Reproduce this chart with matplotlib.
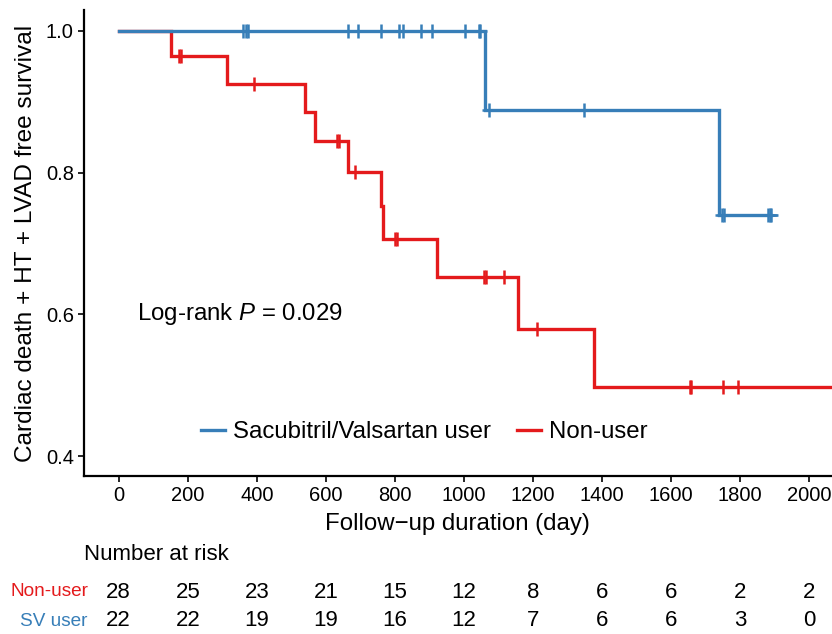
import numpy as np
import matplotlib
matplotlib.use("Agg")
import matplotlib.pyplot as plt
import matplotlib.transforms as mtransforms

plt.rcParams['font.family'] = ['Liberation Sans', 'DejaVu Sans']
plt.rcParams['mathtext.fontset'] = 'custom'
plt.rcParams['mathtext.it'] = 'Liberation Sans:italic'
plt.rcParams['mathtext.rm'] = 'Liberation Sans'

# ---- data ----
groups = ["Sacubitril/Valsartan user", "Non-user"]
risk_labels = ["Non-user", "SV user"]
colors = {"Sacubitril/Valsartan user": "#377EB8", "Non-user": "#E41A1C"}

sv_event_times = [1061, 1739]
sv_censor_times = [360, 368, 374, 664, 693, 760, 812, 824, 875, 907,
                   1003, 1044, 1047, 1072, 1348, 1747, 1754, 1880, 1886, 1890]

non_event_times = [152, 314, 540, 569, 663, 761, 766, 922, 1157, 1377]
non_censor_times = [176, 181, 392, 631, 639, 685, 801, 807, 1059, 1063,
                    1117, 1211, 1655, 1659, 1751, 1793, 2100, 2150]

risk_times = [0, 200, 400, 600, 800, 1000, 1200, 1400, 1600, 1800, 2000]
risk_non = [28, 25, 23, 21, 15, 12, 8, 6, 6, 2, 2]
risk_sv = [22, 22, 19, 19, 16, 12, 7, 6, 6, 3, 0]

pvalue_text = "0.029"


def km(event_times, censor_times):
    times = np.array(list(event_times) + list(censor_times), dtype=float)
    status = np.array([1] * len(event_times) + [0] * len(censor_times))
    order = np.argsort(times, kind="stable")
    times, status = times[order], status[order]
    uniq = np.unique(times)
    s = 1.0
    xs, ys = [0.0], [1.0]
    cx, cy = [], []
    for t in uniq:
        n = np.sum(times >= t)
        d = np.sum((times == t) & (status == 1))
        c = np.sum((times == t) & (status == 0))
        if d > 0:
            s = s * (1 - d / n)
        xs.append(t)
        ys.append(s)
        if c > 0:
            cx.append(t)
            cy.append(s)
    return np.array(xs), np.array(ys), np.array(cx), np.array(cy)


W, H = 832, 634
fig = plt.figure(figsize=(W / 100, H / 100), dpi=100)
ax = fig.add_axes([83.5 / W, 1 - 476 / H, (832 - 83.5) / W, (476 - 10) / H])

curves = {
    "Non-user": km(non_event_times, non_censor_times),
    "Sacubitril/Valsartan user": km(sv_event_times, sv_censor_times),
}
handles = {}
for g in ["Non-user", "Sacubitril/Valsartan user"]:
    xs, ys, cx, cy = curves[g]
    (h,) = ax.step(xs, ys, where="post", color=colors[g], lw=2.4,
                   solid_joinstyle="miter", label=g, zorder=3)
    ax.plot(cx, cy, ls="none", marker="+", ms=10, mew=1.8,
            color=colors[g], zorder=4)
    handles[g] = h

ax.set_xlim(-102, 2066)
ax.set_ylim(0.3718, 1.0296)
ax.set_xticks(risk_times)
ax.set_yticks([0.4, 0.6, 0.8, 1.0])
ax.set_yticklabels(["0.4", "0.6", "0.8", "1.0"])
for side in ["top", "right"]:
    ax.spines[side].set_visible(False)
for side in ["left", "bottom"]:
    ax.spines[side].set_linewidth(1.6)
ax.tick_params(axis="both", length=4, width=1.2, labelsize=14.5,
               colors="black", pad=3)
ax.set_xlabel("Follow\u2212up duration (day)", fontsize=17.3, labelpad=6)
ax.set_ylabel("Cardiac death + HT + LVAD free survival", fontsize=17.6,
              labelpad=6)

ax.text(53, 0.6, "Log-rank $\\it{P}$ = " + pvalue_text, fontsize=17.3,
        va="center", ha="left")

leg = ax.legend([handles[g] for g in groups], groups, loc="center",
                bbox_to_anchor=(0.4556, 0.094), ncol=2, frameon=False,
                fontsize=17.3, handlelength=1.0, columnspacing=1.1,
                handletextpad=0.33)

# risk table
trans = mtransforms.blended_transform_factory(ax.transData, fig.transFigure)
fig.text(84 / W, 1 - 555 / H, "Number at risk", fontsize=16, ha="left",
         va="center")
for t, n in zip(risk_times, risk_non):
    fig.text(t, 1 - 592 / H, str(n), transform=trans, ha="center",
             va="center", fontsize=16)
for t, n in zip(risk_times, risk_sv):
    fig.text(t, 1 - 621 / H, str(n), transform=trans, ha="center",
             va="center", fontsize=16)
fig.text(88 / W, 1 - 592 / H, risk_labels[0], color=colors["Non-user"],
         ha="right", va="center", fontsize=13.7)
fig.text(88 / W, 1 - 621 / H, risk_labels[1],
         color=colors["Sacubitril/Valsartan user"], ha="right", va="center",
         fontsize=13.7)

fig.savefig("out.png", dpi=100)
